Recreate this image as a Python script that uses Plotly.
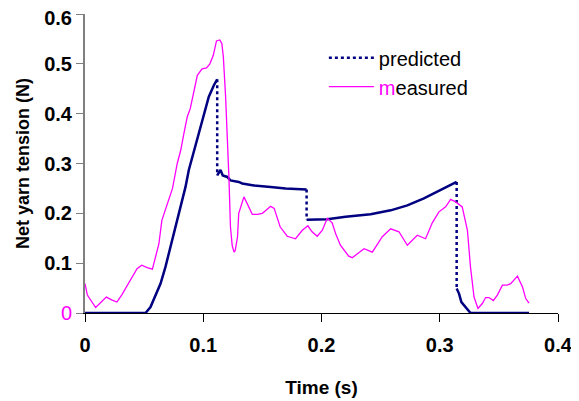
import plotly.graph_objects as go

# ---- data ----
t_meas = [0, 0.002, 0.009, 0.013, 0.018, 0.023, 0.027, 0.031, 0.0385, 0.044, 0.048, 0.0526,
          0.057, 0.0596, 0.0625, 0.065, 0.0695, 0.074, 0.078, 0.081, 0.0836, 0.0865, 0.089,
          0.092, 0.095, 0.099, 0.1028, 0.1056, 0.1085, 0.1112, 0.114, 0.1157, 0.117, 0.1189,
          0.1203, 0.1217, 0.123, 0.1245, 0.126, 0.127, 0.129, 0.130, 0.1344, 0.137, 0.1415,
          0.1457, 0.150, 0.157, 0.160, 0.165, 0.171, 0.178, 0.1838, 0.1885, 0.192, 0.1964,
          0.2007, 0.2049, 0.209, 0.212, 0.216, 0.223, 0.226, 0.236, 0.243, 0.2514, 0.2585,
          0.2655, 0.2726, 0.281, 0.288, 0.2937, 0.2993, 0.305, 0.3092, 0.3135, 0.319, 0.3234,
          0.326, 0.329, 0.3323, 0.336, 0.3388, 0.3416, 0.3453, 0.3487, 0.353, 0.357, 0.360,
          0.3657, 0.370, 0.3727, 0.3755]
v_meas = [0.059, 0.036, 0.011, 0.020, 0.032, 0.026, 0.022, 0.036, 0.066, 0.089, 0.096, 0.091,
          0.088, 0.112, 0.139, 0.186, 0.220, 0.250, 0.300, 0.327, 0.360, 0.394, 0.410,
          0.447, 0.477, 0.490, 0.492, 0.500, 0.517, 0.546, 0.548, 0.541, 0.514, 0.434,
          0.367, 0.273, 0.173, 0.135, 0.122, 0.125, 0.153, 0.200, 0.233, 0.220, 0.198,
          0.198, 0.200, 0.214, 0.210, 0.173, 0.154, 0.149, 0.166, 0.175, 0.163, 0.154,
          0.166, 0.190, 0.181, 0.159, 0.136, 0.114, 0.111, 0.129, 0.122, 0.153, 0.169,
          0.163, 0.136, 0.156, 0.149, 0.181, 0.203, 0.213, 0.228, 0.223, 0.213, 0.166,
          0.092, 0.032, 0.009, 0.019, 0.031, 0.031, 0.025, 0.036, 0.056, 0.056, 0.059,
          0.074, 0.052, 0.029, 0.020]

t_pred = [0, 0.0512, 0.0554, 0.0596, 0.0639, 0.068, 0.0723, 0.0766, 0.0808, 0.085, 0.0878,
          0.0935, 0.0992, 0.1047, 0.109, 0.1118, 0.1118, 0.1146, 0.1165, 0.1203, 0.123, 0.130,
          0.133, 0.1428, 0.157, 0.1696, 0.1874, 0.1874, 0.2049, 0.2204, 0.2415, 0.2585,
          0.2726, 0.2866, 0.298, 0.3092, 0.3143, 0.3143, 0.3163, 0.3183, 0.322, 0.326, 0.3755]
v_pred = [0, 0, 0.012, 0.036, 0.059, 0.092, 0.133, 0.173, 0.213, 0.253, 0.287,
          0.337, 0.390, 0.434, 0.457, 0.469, 0.276, 0.287, 0.276, 0.273, 0.266, 0.263,
          0.260, 0.256, 0.253, 0.250, 0.248, 0.187, 0.188, 0.193, 0.198, 0.206,
          0.216, 0.230, 0.243, 0.256, 0.263, 0.049, 0.039, 0.022, 0.012, 0, 0]

y_ticks = [0, 0.1, 0.2, 0.3, 0.4, 0.5, 0.6]
y_ticktext = ["<span style='color:#FF00FF;font-weight:normal'>0</span>",
              "0.1", "0.2", "0.3", "0.4", "0.5",
              "<span style='baseline-shift:-4px'>0.6</span>"]
x_ticks = [0, 0.1, 0.2, 0.3, 0.4]
x_ticktext = ["0", "0.1", "0.2", "0.3", "0.4"]

NAVY = "#000080"
MAG = "#FF00FF"

# split predicted into continuous (solid) pieces and vertical jumps (dotted)
solid_t, solid_v, jump_t, jump_v = [], [], [], []
for i in range(len(t_pred)):
    solid_t.append(t_pred[i]); solid_v.append(v_pred[i])
    if i + 1 < len(t_pred) and t_pred[i + 1] == t_pred[i]:
        solid_t.append(None); solid_v.append(None)
        jump_t += [t_pred[i], t_pred[i + 1], None]
        jump_v += [v_pred[i], v_pred[i + 1], None]

fig = go.Figure()
fig.add_trace(go.Scatter(x=solid_t, y=solid_v, mode="lines", showlegend=False,
                         line=dict(color=NAVY, width=2.5), connectgaps=False,
                         legendgroup="p"))
fig.add_trace(go.Scatter(x=jump_t, y=jump_v, mode="lines", name="predicted",
                         line=dict(color=NAVY, width=2.5, dash="dot"), connectgaps=False,
                         legendgroup="p"))
fig.add_trace(go.Scatter(x=t_meas, y=v_meas, mode="lines",
                         name="<span style='color:#FF00FF'>m</span>easured",
                         line=dict(color=MAG, width=1.3), legendgroup="m"))

# page body has an 8px margin, so the figure is sized/offset to compensate
fig.update_layout(
    width=571, height=393,
    margin=dict(l=77, r=21, t=6, b=88),
    paper_bgcolor="white", plot_bgcolor="white",
    font=dict(family="Liberation Sans, Arial, sans-serif", color="black"),
    legend=dict(x=0.505, y=0.919, xanchor="left", yanchor="top",
                font=dict(size=20), bgcolor="rgba(0,0,0,0)",
                tracegroupgap=0, traceorder="grouped", itemwidth=45),
    xaxis=dict(range=[0, 0.4], tickvals=x_ticks, ticktext=x_ticktext, automargin=False,
               showgrid=False, zeroline=False, showline=True, linecolor="black",
               linewidth=1, ticks="outside", ticklen=8, tickcolor="black",
               ticklabelstandoff=6, ticklabeloverflow="allow",
               tickfont=dict(size=20, weight="bold"),
               title=dict(text="<b>Time (s)</b>", font=dict(size=19), standoff=25)),
    yaxis=dict(range=[0, 0.6], tickvals=y_ticks, ticktext=y_ticktext, automargin=False,
               showgrid=False, zeroline=False, showline=True, linecolor="#808080",
               linewidth=2, ticks="outside", ticklen=7, tickcolor="#808080",
               ticklabeloverflow="allow",
               tickfont=dict(size=20, weight="bold"),
               title=dict(text="<b>Net yarn tension (N)</b>", font=dict(size=18), standoff=10)),
)

fig.write_html("out.html")
